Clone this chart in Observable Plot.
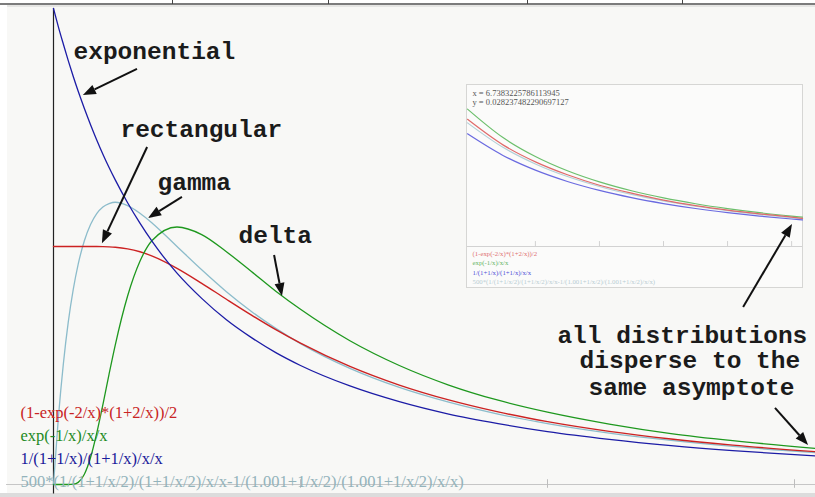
<!DOCTYPE html>
<html>
<head>
<meta charset="utf-8">
<script src="https://cdn.jsdelivr.net/npm/d3@7"></script>
<script src="https://cdn.jsdelivr.net/npm/@observablehq/plot@0.6"></script>
<style>
  body { margin: 0; background: #fff; }
  #wrap { position: relative; width: 815px; height: 497px; overflow: hidden; background: #f8f8f6; }
  #wrap .layer { position: absolute; left: 0; top: 0; }
  #topBand { position: absolute; left: 0; top: 0; width: 815px; height: 7px; background: #fff; }
  #topRule { position: absolute; left: 0; top: 3px; width: 815px; height: 2px; background: #7c7c7c; }
  #topShade { position: absolute; left: 7px; top: 5px; width: 808px; height: 2px; background: #e6e6e4; }
  .topTick { position: absolute; top: 0; width: 1px; height: 4px; background: #444; }
  #leftStrip { position: absolute; left: 0; top: 0; width: 7px; height: 497px; background: #fff; }
  #bottomBand { position: absolute; left: 0; top: 493px; width: 815px; height: 4px; background: #dcdcdc; }
  #inset { position: absolute; left: 466px; top: 84px; width: 335px; height: 202px; border: 1px solid #d6d6d4; background: #fbfbfa; }
</style>
</head>
<body>
<div id="wrap">
  <div id="topBand"></div>
  <div id="leftStrip"></div>
  <div id="topShade"></div>
  <div id="topRule"></div>
  <div id="bottomBand"></div>
</div>
<script>
// Sample abscissas shared by the four curves of the main panel
const xs = [0, 0.02, 0.04, 0.06, 0.08, 0.1, 0.125, 0.15, 0.175, 0.2, 0.225, 0.25, 0.3, 0.35, 0.4,
            0.5, 0.6, 0.7, 0.8, 0.9, 1.0, 1.2, 1.4, 1.6, 1.8, 2.0, 2.25, 2.5, 2.75, 3.085];

// Red: rectangular
const rectangular = [0.5, 0.5, 0.5, 0.5, 0.5, 0.5, 0.5, 0.5, 0.5, 0.4998, 0.4993, 0.4985, 0.4951, 0.4889, 0.4798,
                     0.4542, 0.4227, 0.3892, 0.3564, 0.3253, 0.297, 0.2481, 0.2089, 0.1777, 0.1525, 0.1321, 0.1117, 0.0956, 0.0827, 0.069];
// Green: delta
const delta = [0, 0, 0, 0, 0.0006, 0.0045, 0.0215, 0.0566, 0.108, 0.168, 0.232, 0.293, 0.396, 0.469, 0.513,
               0.541, 0.525, 0.489, 0.448, 0.406, 0.368, 0.302, 0.25, 0.209, 0.177, 0.152, 0.127, 0.107, 0.092, 0.076];
// Blue: exponential
const exponential = [1, 0.961, 0.925, 0.89, 0.857, 0.826, 0.79, 0.756, 0.724, 0.694, 0.666, 0.64, 0.592, 0.549, 0.51,
                     0.444, 0.391, 0.346, 0.309, 0.277, 0.25, 0.207, 0.174, 0.148, 0.128, 0.111, 0.0947, 0.0816, 0.0711, 0.0599];
// Light teal: gamma
const gamma = [0, 0.142, 0.254, 0.342, 0.41, 0.463, 0.512, 0.546, 0.569, 0.583, 0.59, 0.593, 0.586, 0.57, 0.549,
               0.5, 0.451, 0.405, 0.364, 0.328, 0.296, 0.244, 0.204, 0.173, 0.148, 0.128, 0.108, 0.0926, 0.0801, 0.067];

// Zoomed tail shown in the inset
const insetXs = [3.94, 4.5, 5, 5.5, 6, 6.5, 7, 7.5, 8, 8.5, 9, 9.17];
const insetDelta = [0.05, 0.03954, 0.03275, 0.02756, 0.02351, 0.02029, 0.01769, 0.01556, 0.01379, 0.0123, 0.01105, 0.01066];
const insetRect  = [0.0463, 0.0369, 0.0308, 0.0261, 0.0223, 0.0194, 0.0169, 0.0149, 0.01325, 0.01187, 0.0107, 0.01025];
const insetExp   = [0.041, 0.03306, 0.02778, 0.02367, 0.02041, 0.01778, 0.01563, 0.01384, 0.01235, 0.01108, 0.01, 0.00967];
const insetGamma = [0.045, 0.036, 0.03005, 0.02546, 0.02185, 0.01895, 0.01659, 0.01465, 0.01303, 0.01166, 0.0105, 0.01014];

// Axis ticks
const xTicks = [1, 2, 3];
const insetTicks = [5, 6, 7, 8, 9];

// Formula legend and cursor readout
const formulas = [
  "(1-exp(-2/x)*(1+2/x))/2",
  "exp(-1/x)/x/x",
  "1/(1+1/x)/(1+1/x)/x/x",
  "500*(1/(1+1/x/2)/(1+1/x/2)/x/x-1/(1.001+1/x/2)/(1.001+1/x/2)/x/x)"
];
const readout = ["x = 6.7383225786113945", "y = 0.028237482290697127"];

// Callout labels
const labels = ["exponential", "rectangular", "gamma", "delta",
                "all distributions", "disperse to the", "same asymptote"];

const col = {red: "#cc2222", green: "#1e981e", blue: "#1c1ca6", teal: "#8cbccb"};
const legendCol = ["#c82424", "#238a23", "#1a1a9a", "#93b3bb"];
const insetCol = {red: "#e06a6a", green: "#6cbf6c", blue: "#6a6ae0", teal: "#b2d0d8"};
const insetLegendCol = ["#e07070", "#66b466", "#5050d8", "#b8cdd3"];

const rows = ys => xs.map((x, i) => ({x, y: ys[i]}));
const insetRows = ys => insetXs.map((x, i) => ({x, y: ys[i]}));

const W = 815, H = 497;
const frame = {
  width: W, height: H,
  marginLeft: 53, marginRight: 0, marginTop: 8, marginBottom: 13,
  x: {domain: [0, 3.085], axis: null},
  y: {domain: [0, 1], axis: null},
  style: {background: "transparent", overflow: "visible"}
};

const serif = "'Liberation Serif', 'Times New Roman', serif";
const mono = "'Liberation Mono', 'Courier New', monospace";

// Main panel: axes, curves and formula legend
const main = Plot.plot({
  ...frame,
  marks: [
    Plot.ruleY([0], {x1: -0.19, x2: 3.085, stroke: "#c6c6c6", strokeWidth: 1}),
    Plot.ruleX(xTicks, {y1: -0.008, y2: 0.01, stroke: "#bdbdbd"}),
    Plot.ruleX([0], {y1: -0.02, y2: 1, stroke: "#222", strokeWidth: 1.2}),
    Plot.line(rows(gamma), {x: "x", y: "y", stroke: col.teal, strokeWidth: 1.3, curve: "monotone-x"}),
    Plot.line(rows(rectangular), {x: "x", y: "y", stroke: col.red, strokeWidth: 1.4, curve: "monotone-x"}),
    Plot.line(rows(delta), {x: "x", y: "y", stroke: col.green, strokeWidth: 1.3, curve: "monotone-x"}),
    Plot.line(rows(exponential), {x: "x", y: "y", stroke: col.blue, strokeWidth: 1.3, curve: "monotone-x"}),
    Plot.text(formulas.map((t, i) => ({t, i, x: -0.134, y: [0.1397, 0.0924, 0.0431, -0.0053][i]})), {
      x: "x", y: "y", text: "t", fill: d => legendCol[d.i],
      textAnchor: "start", lineAnchor: "bottom", fontSize: 16.5, fontFamily: serif
    })
  ]
});
main.classList.add("layer");
document.getElementById("wrap").appendChild(main);

// Inset: the tail of the four curves, magnified
const inset = Plot.plot({
  width: 335, height: 202,
  marginLeft: 0, marginRight: 0, marginTop: 0, marginBottom: 41,
  x: {domain: [3.94, 9.17], axis: null},
  y: {domain: [0, 0.0586], axis: null},
  style: {background: "transparent", overflow: "visible"},
  marks: [
    Plot.ruleY([0], {stroke: "#d2d2d2"}),
    Plot.ruleX(insetTicks, {y1: 0, y2: 0.0018, stroke: "#d2d2d2"}),
    Plot.line(insetRows(insetGamma), {x: "x", y: "y", stroke: insetCol.teal, strokeWidth: 1.2, curve: "monotone-x"}),
    Plot.line(insetRows(insetDelta), {x: "x", y: "y", stroke: insetCol.green, strokeWidth: 1.2, curve: "monotone-x"}),
    Plot.line(insetRows(insetRect), {x: "x", y: "y", stroke: insetCol.red, strokeWidth: 1.2, curve: "monotone-x"}),
    Plot.line(insetRows(insetExp), {x: "x", y: "y", stroke: insetCol.blue, strokeWidth: 1.2, curve: "monotone-x"}),
    Plot.text(readout.map((t, i) => ({t, x: 4.018, y: [0.0557, 0.0524][i]})), {
      x: "x", y: "y", text: "t", fill: "#555", textAnchor: "start", lineAnchor: "middle",
      fontSize: 8.5, fontFamily: serif
    }),
    Plot.text(formulas.map((t, i) => ({t, i, x: 4.018, y: [-0.00255, -0.00601, -0.00947, -0.01275][i]})), {
      x: "x", y: "y", text: "t", fill: d => insetLegendCol[d.i], textAnchor: "start", lineAnchor: "middle",
      fontSize: 6.8, fontFamily: serif
    })
  ]
});
const insetBox = document.createElement("div");
insetBox.id = "inset";
insetBox.appendChild(inset);
document.getElementById("wrap").appendChild(insetBox);

// Callouts drawn above everything: label positions and arrow endpoints in data units
const labelX = [0.081, 0.271, 0.421, 0.749, 2.04, 2.13, 2.166];
const labelY = [0.893, 0.731, 0.618, 0.508, 0.298, 0.244, 0.189];
const arrowFrom = [[0.34, 0.872], [0.381, 0.708], [0.522, 0.603], [0.895, 0.481], [2.794, 0.372], [2.923, 0.16]];
const arrowTo   = [[0.121, 0.817], [0.198, 0.506], [0.385, 0.559], [0.927, 0.395], [2.992, 0.546], [3.057, 0.082]];

// Arrows with solid triangular heads, positioned through the plot's scales
function filledArrows(index, scales) {
  const g = d3.create("svg:g").attr("fill", "#111").attr("stroke", "#111");
  arrowFrom.forEach((a, i) => {
    const b = arrowTo[i];
    const x1 = scales.x(a[0]), y1 = scales.y(a[1]), x2 = scales.x(b[0]), y2 = scales.y(b[1]);
    const ang = Math.atan2(y2 - y1, x2 - x1);
    const L = 13, hw = 5;
    const bx = x2 - L * Math.cos(ang), by = y2 - L * Math.sin(ang);
    g.append("line").attr("x1", x1).attr("y1", y1).attr("x2", bx).attr("y2", by)
      .attr("stroke-width", 2);
    g.append("path").attr("stroke", "none").attr("d",
      `M${x2},${y2}L${bx + hw * Math.sin(ang)},${by - hw * Math.cos(ang)}L${bx - hw * Math.sin(ang)},${by + hw * Math.cos(ang)}Z`);
  });
  return g.node();
}

const callouts = Plot.plot({
  ...frame,
  marks: [
    filledArrows,
    Plot.text(labels.map((t, i) => ({t, x: labelX[i], y: labelY[i]})), {
      x: "x", y: "y", text: "t", fill: "#1b1b1b", textAnchor: "start", lineAnchor: "bottom",
      fontSize: 24.5, fontWeight: "bold", fontFamily: mono
    })
  ]
});
callouts.classList.add("layer");
document.getElementById("wrap").appendChild(callouts);

// Fragments of the rule above the panel
[172, 328, 527, 682].forEach(px => {
  const t = document.createElement("div");
  t.className = "topTick";
  t.style.left = px + "px";
  document.getElementById("wrap").appendChild(t);
});
</script>
</body>
</html>
